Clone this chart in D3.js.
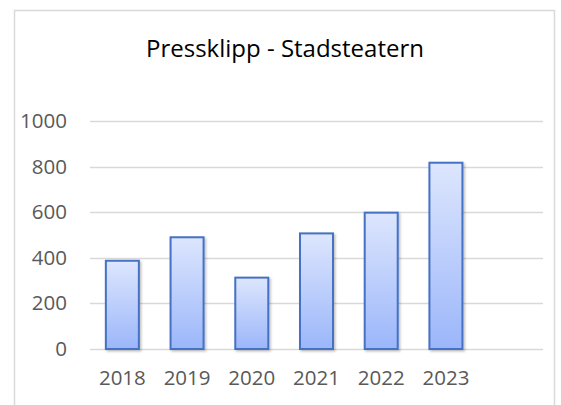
<!DOCTYPE html>
<html><head><meta charset="utf-8">
<script src="https://cdn.jsdelivr.net/npm/d3@7"></script>
<style>
html,body{margin:0;padding:0;background:#fff;}
svg{display:block;font-family:"Open Sans","Liberation Sans",sans-serif;}
</style></head>
<body><svg id="c" width="561" height="405"></svg>
<script>
const title = "Pressklipp - Stadsteatern";
const categories = ["2018","2019","2020","2021","2022","2023",""];
const values = [387, 490, 313, 507, 598, 817, null];
const yTicks = [0,200,400,600,800,1000];

const svg = d3.select("#c");
const m = {left:90, right:18, top:121, bottom:56};

const defs = svg.append("defs");
const grad = defs.append("linearGradient").attr("id","bg").attr("x1",0).attr("y1",0).attr("x2",0).attr("y2",1);
grad.append("stop").attr("offset","0%").attr("stop-color","#dde6fd");
grad.append("stop").attr("offset","100%").attr("stop-color","#9bb6fa");
const filt = defs.append("filter").attr("id","sh").attr("x","-20%").attr("y","-20%").attr("width","150%").attr("height","150%");
filt.append("feDropShadow").attr("dx",1.5).attr("dy",1.5).attr("stdDeviation",1.2).attr("flood-color","#000").attr("flood-opacity",0.25);

// chart frame
svg.append("rect").attr("x",14.5).attr("y",10.5).attr("width",540).attr("height",420)
  .attr("fill","#fff").attr("stroke","#d9d9d9").attr("stroke-width",1.5);

const x = d3.scaleBand().domain(categories).range([m.left, 543]).paddingInner(0.49).paddingOuter(0.245);
const y = d3.scaleLinear().domain([0,1000]).range([349, 121]);

// gridlines
svg.append("g").selectAll("line").data(yTicks).join("line")
  .attr("x1",m.left).attr("x2",543)
  .attr("y1",d=>Math.round(y(d))+0.5).attr("y2",d=>Math.round(y(d))+0.5)
  .attr("stroke","#d9d9d9").attr("stroke-width",1.5);

// y axis labels
const yAxis = d3.axisLeft(y).tickValues(yTicks).tickSize(0).tickPadding(0).tickFormat(d3.format("d"));
const yg = svg.append("g").attr("transform","translate(67,0)").call(yAxis);
yg.select(".domain").remove();
yg.selectAll("text").attr("fill","#595959").attr("font-size",20.5).attr("font-family","Open Sans, sans-serif");

// x axis labels
const xAxis = d3.axisBottom(x).tickSize(0).tickPadding(0);
const xg = svg.append("g").attr("transform","translate(0,370)").call(xAxis);
xg.select(".domain").remove();
xg.selectAll("text").attr("fill","#595959").attr("font-size",20.5).attr("font-family","Open Sans, sans-serif").attr("dy","0.75em");

// bars
svg.append("g").selectAll("rect").data(categories.map((c,i)=>({c,v:values[i]})).filter(d=>d.v!=null)).join("rect")
  .attr("x",d=>x(d.c)).attr("width",x.bandwidth())
  .attr("y",d=>y(d.v)).attr("height",d=>y(0)-y(d.v))
  .attr("fill","url(#bg)").attr("stroke","#4472c4").attr("stroke-width",2)
  .attr("filter","url(#sh)");

// title
svg.append("text").attr("x",285).attr("y",57).attr("text-anchor","middle")
  .attr("font-size",24).attr("fill","#000").text(title);
</script></body></html>
